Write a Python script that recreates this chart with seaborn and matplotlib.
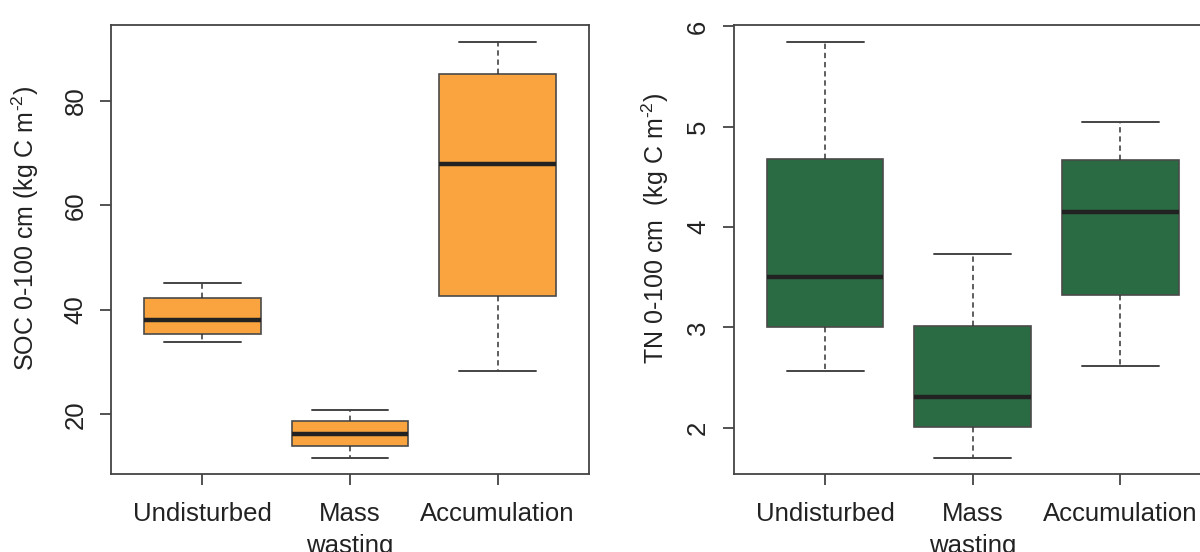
import numpy as np
import pandas as pd
import matplotlib
matplotlib.use("Agg")
import matplotlib.pyplot as plt
import seaborn as sns

# ---- data (five-number summaries) ----
categories = ["Undisturbed", "Mass\nwasting", "Accumulation"]

soc_low = [33.8, 11.7, 28.4]
soc_q1 = [35.3, 14.0, 42.6]
soc_med = [38.0, 16.3, 68.0]
soc_q3 = [42.3, 18.7, 85.1]
soc_high = [45.1, 20.8, 91.2]

tn_low = [2.57, 1.70, 2.62]
tn_q1 = [3.00, 2.01, 3.32]
tn_med = [3.50, 2.31, 4.15]
tn_q3 = [4.68, 3.01, 4.67]
tn_high = [5.84, 3.73, 5.05]

soc_ticks = [20, 40, 60, 80]
tn_ticks = [2, 3, 4, 5, 6]


def make_df(low, q1, med, q3, high):
    rows = []
    for i, cat in enumerate(categories):
        for v in (low[i], q1[i], med[i], q3[i], high[i]):
            rows.append({"group": cat, "value": v})
    return pd.DataFrame(rows)


soc_df = make_df(soc_low, soc_q1, soc_med, soc_q3, soc_high)
tn_df = make_df(tn_low, tn_q1, tn_med, tn_q3, tn_high)

sns.set_theme(style="ticks")
plt.rcParams["font.family"] = ["Liberation Sans", "DejaVu Sans"]
plt.rcParams["mathtext.fontset"] = "custom"
plt.rcParams["mathtext.rm"] = "Liberation Sans"
plt.rcParams["mathtext.it"] = "Liberation Sans:italic"
plt.rcParams["mathtext.bf"] = "Liberation Sans:bold"

fig = plt.figure(figsize=(12, 5.52), dpi=100)
ax1 = fig.add_axes([111 / 1200, 78 / 552, 478 / 1200, 449 / 552])
ax2 = fig.add_axes([733.7 / 1200, 78 / 552, 478 / 1200, 449 / 552])

edge = "#4a4a4a"
common = dict(
    x="group", y="value", order=categories, width=0.79, whis=(0, 100),
    saturation=1, linecolor=edge, linewidth=1.2, showfliers=False,
    medianprops=dict(color="#222222", linewidth=3.2),
    whiskerprops=dict(color="#333333", linestyle=(0, (3.5, 2.5)), linewidth=1.1),
    capprops=dict(color="#444444", linewidth=1.4),
    capwidths=0.52,
)

sns.boxplot(data=soc_df, ax=ax1, color="#F9A43E", **common)
sns.boxplot(data=tn_df, ax=ax2, color="#2A6B44", **common)

for ax in (ax1, ax2):
    ax.set_xlim(-0.62, 2.62)
    ax.set_xlabel("")
    for s in ax.spines.values():
        s.set_visible(True)
        s.set_color("#444444")
        s.set_linewidth(1.3)
    ax.tick_params(axis="both", colors="#444444", length=8, width=1.3,
                   labelsize=18.5, labelcolor="#222222")
    ax.tick_params(axis="x", pad=12.5)
    ax.tick_params(axis="y", pad=9)
    ax.set_xticks(range(len(categories)))
    ax.set_xticklabels(categories, linespacing=1.4)

ax1.set_ylim(8.6, 94.5)
ax1.set_yticks(soc_ticks)
ax1.set_yticklabels([str(t) for t in soc_ticks], rotation=90, va="center")
ax1.set_ylabel("SOC 0-100 cm (kg C m$^{\\text{-2}}$)", fontsize=18, color="#222222")
ax1.yaxis.set_label_coords(-0.146, 0.548)

ax2.set_ylim(1.54, 6.014)
ax2.set_yticks(tn_ticks)
ax2.set_yticklabels([str(t) for t in tn_ticks], rotation=90, va="center")
ax2.set_ylabel("TN 0-100 cm  (kg C m$^{\\text{-2}}$)", fontsize=18, color="#222222")
ax2.yaxis.set_label_coords(-0.131, 0.546)

fig.savefig("out.png", dpi=100)
